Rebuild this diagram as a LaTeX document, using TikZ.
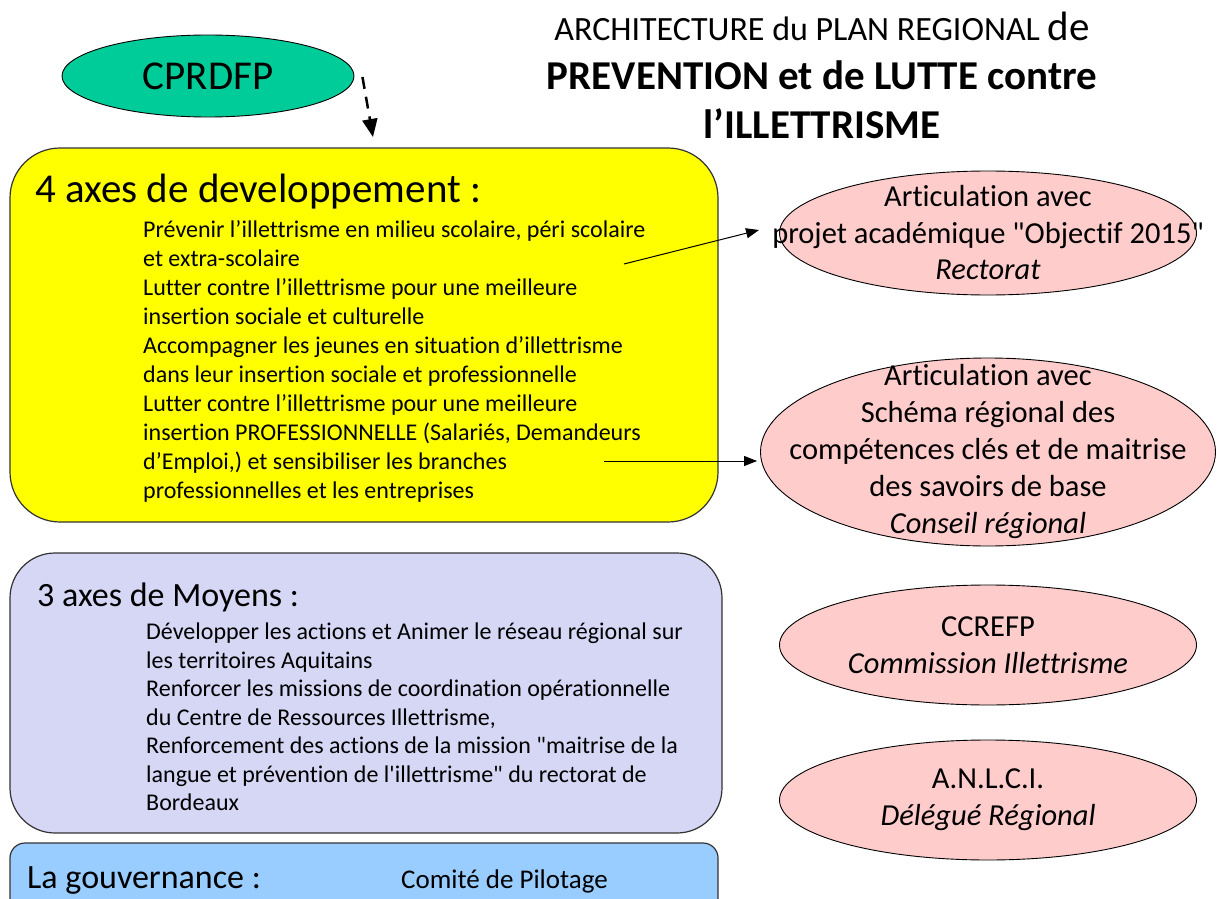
\documentclass[tikz,border=0pt]{standalone}
\usepackage{fontspec}
\setmainfont{Carlito}[Ligatures=CommonOff]
\newfontfamily\rawfont{Carlito}[Ligatures=CommonOff]
\usetikzlibrary{arrows.meta, calc, positioning, shapes.geometric}

\definecolor{cprdfpgreen}{HTML}{00CC99}
\definecolor{axeyellow}{HTML}{FFFF00}
\definecolor{moyenlav}{HTML}{D6D6F5}
\definecolor{gouvblue}{HTML}{99CCFF}
\definecolor{artpink}{HTML}{FFCCCC}

\newcommand{\fsz}[2]{\fontsize{#1}{#2}\selectfont}
\newcommand{\dq}{{\rawfont\symbol{34}}}
\newcommand{\sq}{{\rawfont\symbol{39}}}

\tikzset{
	axebox/.style={draw=black!80, line width=1.2pt, inner sep=0pt},
	ellpink/.style={ellipse, draw=black, line width=0.9pt, fill=artpink, inner sep=0pt},
	bodytext/.style={anchor=north west, inner sep=0pt, align=left},
	linkarrow/.style={line width=1pt, -{Triangle[length=13pt,width=10pt]}},
	dasharrow/.style={line width=2.5pt, dash pattern=on 12pt off 8pt, -{Triangle[length=18pt,width=15pt]}}
}

\begin{document}
\begin{tikzpicture}[x=1pt, y=-1pt]
	\useasboundingbox (0,0) rectangle (1219,899);
	\fill[white] (0,0) rectangle (1219,899);
	\clip (0,0) rectangle (1219,899);

	% titre
	\node[anchor=north, inner sep=0pt, align=center, font=\fsz{34}{49}] (titre) at (822,12)
		{ARCHITECTURE du PLAN REGIONAL {\fsz{41}{49}de}\\
		{\bfseries\fsz{41}{49}PREVENTION et de LUTTE contre}\\
		{\bfseries\fsz{41}{49}l’ILLETTRISME}};

	% CPRDFP
	\node[ellipse, draw=black, line width=0.9pt, fill=cprdfpgreen, minimum width=292pt, minimum height=82pt,
		font=\fsz{41}{48}] (cprdfp) at (208,76) {CPRDFP};
	\coordinate (devtop) at (373,137);
	\draw[dasharrow] ([xshift=8pt,yshift=-1pt]cprdfp.east) -- (devtop);

	% 4 axes de developpement
	\node[axebox, fill=axeyellow, rounded corners=50pt, minimum width=708pt, minimum height=374pt] (devbox) at (364,335) {};
	\node[anchor=base west, inner sep=0pt, font=\fsz{41}{49}] (devtitre) at (35,202) {4 axes de developpement :};
	\node[bodytext, font=\fsz{24}{29}] (devtexte) at (143,220)
		{Prévenir l’illettrisme en milieu scolaire, péri scolaire\\
		et extra-scolaire\\
		Lutter contre l’illettrisme pour une meilleure\\
		insertion sociale et culturelle\\
		Accompagner les jeunes en situation d’illettrisme\\
		dans leur insertion sociale et professionnelle\\
		Lutter contre l’illettrisme pour une meilleure\\
		insertion PROFESSIONNELLE (Salariés, Demandeurs\\
		d’Emploi,) et sensibiliser les branches\\
		professionnelles et les entreprises};

	% 3 axes de moyens
	\node[axebox, fill=moyenlav, rounded corners=45pt, minimum width=712pt, minimum height=280pt] (moybox) at (366,693) {};
	\node[anchor=base west, inner sep=0pt, font=\fsz{34}{41}] (moytitre) at (37,606) {3 axes de Moyens :};
	\node[bodytext, font=\fsz{24}{28.5}] (moytexte) at (146,623)
		{Développer les actions et Animer le réseau régional sur\\
		les territoires Aquitains\\
		Renforcer les missions de coordination opérationnelle\\
		du Centre de Ressources Illettrisme,\\
		Renforcement des actions de la mission \dq maitrise de la\\
		langue et prévention de l\sq illettrisme\dq{} du rectorat de\\
		Bordeaux};

	% gouvernance
	\node[axebox, fill=gouvblue, rounded corners=15pt, minimum width=708pt, minimum height=110pt] (gouvbox) at (364,898) {};
	\node[anchor=base west, inner sep=0pt, font=\fsz{34}{41}] (gouvtitre) at (27,888) {La gouvernance :};
	\node[anchor=base west, inner sep=0pt, font=\fsz{27}{33}] (copil) at (401,888) {Comité de Pilotage};

	% articulations
	\node[ellpink, minimum width=417pt, minimum height=124pt] (rectorat) at (988,233) {};
	\node[align=center, inner sep=0pt, font=\fsz{30.5}{36.5}] (rectoratT) at (rectorat.center)
		{Articulation avec\\ projet académique \dq Objectif 2015\dq\\ \textit{Rectorat}};
	\node[ellpink, minimum width=455pt, minimum height=188pt] (region) at (988,452) {};
	\node[align=center, inner sep=0pt, font=\fsz{30.5}{37}] (regionT) at (region.center)
		{Articulation avec\\ Schéma régional des\\ compétences clés et de maitrise\\ des savoirs de base\\ \textit{Conseil régional}};
	\node[ellpink, minimum width=417pt, minimum height=120pt] (ccrefp) at (988,645) {};
	\node[align=center, inner sep=0pt, font=\fsz{30.5}{37}] (ccrefpT) at (ccrefp.center)
		{CCREFP\\ \textit{Commission Illettrisme}};
	\node[ellpink, minimum width=417pt, minimum height=120pt] (anlci) at (988,800) {};
	\node[align=center, inner sep=0pt, font=\fsz{30.5}{37}] (anlciT) at (anlci.center)
		{A.N.L.C.I.\\ \textit{Délégué Régional}};

	% liens
	\coordinate (lien1) at (624,264);
	\coordinate (lien2) at (604,461);
	\draw[linkarrow] (lien1) -- ($(rectorat.west)+(-20,-3)$);
	\draw[linkarrow] (lien2) -- ([xshift=-3pt]lien2 -| region.west);
\end{tikzpicture}
\end{document}
